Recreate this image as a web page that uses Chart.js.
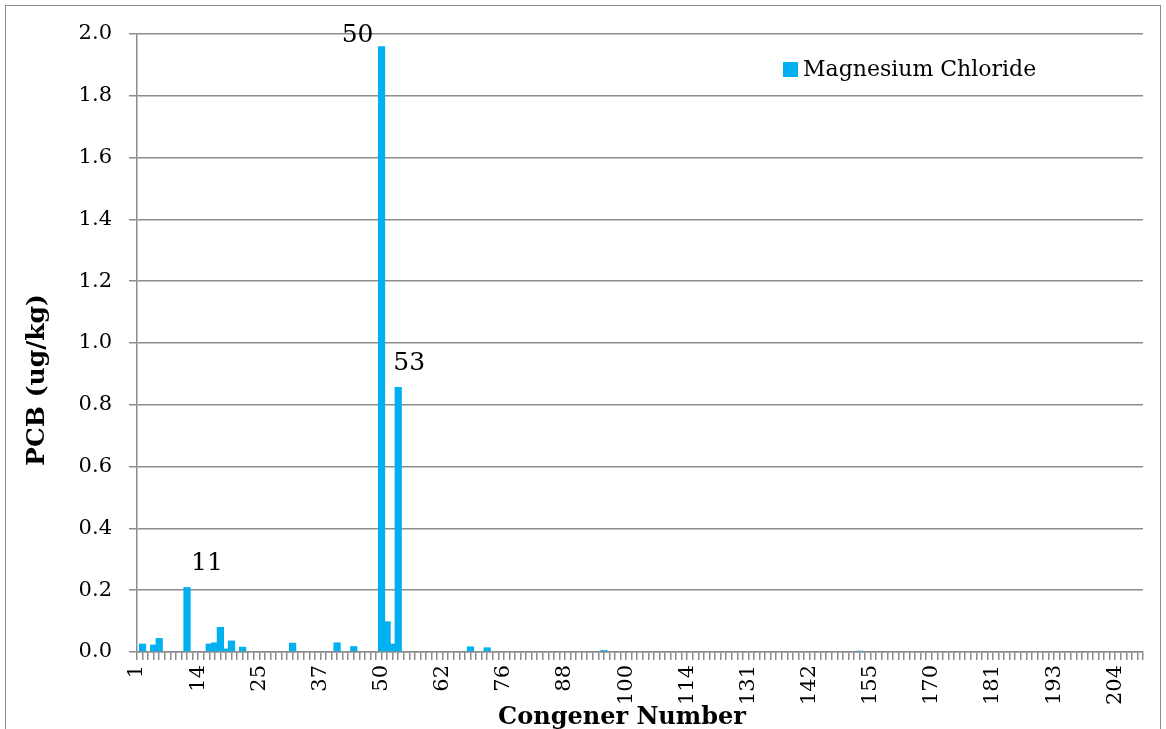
<!DOCTYPE html>
<html>
<head>
<meta charset="utf-8">
<script src="https://cdn.jsdelivr.net/npm/chart.js@4.4.1/dist/chart.umd.min.js"></script>
<style>
html, body { margin: 0; padding: 0; background: #fff; overflow: hidden; }
#frame { position: absolute; left: 5px; top: 5px; width: 1154px; height: 740px; border: 1px solid #8c8c8c; border-bottom: none; }
#chart { position: absolute; left: 0; top: 0; }
</style>
</head>
<body>
<div id="frame"></div>
<canvas id="chart" width="1166" height="729"></canvas>
<script>
// congener categories (co-eluting ones share a slot)
const congeners = [
    '1', '2', '3', '4/10', '5', '6', '7', '8', '9', '11', '12/13',
    '14', '15', '16', '17', '18', '19', '20', '21', '22', '23', '24',
    '25', '26/29', '27', '28', '30', '31', '32', '33', '34', '35', '36',
    '37', '38', '39', '40/41', '42', '43', '44/47', '45', '46', '48', '49',
    '50', '51', '52', '53', '54', '55', '56/60', '57', '58', '59', '61',
    '62', '63', '64/68', '66', '67', '65/69', '70', '71/72', '73', '74', '75',
    '76', '77', '78', '79', '80', '81', '82', '83', '84', '85', '86/87',
    '88', '89', '90', '91', '92', '93', '94', '95/98', '96', '97', '99',
    '100', '101', '102', '103', '104', '105', '106', '107/108', '109/110', '111/112', '113',
    '114', '115/116', '117/118', '119', '120/121', '122', '123', '124/125', '126/127', '128/129', '130',
    '131', '132', '133', '134', '135', '136', '137', '138', '139', '140', '141',
    '142', '143', '144', '145', '146', '147/149', '148', '150', '151', '152/153', '154',
    '155', '156/157', '158', '159/160', '161', '162', '163/164', '165', '166', '167/168', '169',
    '170', '171', '172', '173', '174', '175', '176', '177', '178', '179', '180',
    '181', '182', '183', '184', '185/186', '187', '188', '189', '190', '191', '192',
    '193', '194', '195', '196', '197', '198', '199', '200', '201', '202', '203',
    '204', '205', '206', '207', '208', '209'
];

// PCB (ug/kg), one value per congener slot
const magnesiumChloride = [
    0, 0.027, 0, 0.024, 0.045, 0, 0, 0, 0, 0.210, 0,
    0, 0, 0.027, 0.031, 0.081, 0.011, 0.037, 0, 0.017, 0, 0,
    0, 0, 0, 0, 0, 0, 0.030, 0, 0, 0, 0,
    0, 0, 0, 0.031, 0, 0, 0.019, 0, 0, 0, 0,
    1.960, 0.099, 0.027, 0.858, 0, 0, 0, 0, 0, 0, 0,
    0, 0, 0, 0, 0, 0.018, 0, 0, 0.015, 0, 0,
    0, 0, 0, 0, 0, 0, 0, 0, 0, 0, 0,
    0, 0, 0, 0, 0, 0, 0, 0.006, 0, 0, 0,
    0, 0, 0, 0, 0, 0, 0, 0, 0, 0, 0,
    0, 0, 0, 0, 0, 0, 0, 0, 0, 0, 0,
    0, 0.003, 0, 0, 0, 0, 0, 0, 0, 0, 0,
    0, 0, 0, 0, 0, 0, 0, 0, 0, 0.004, 0,
    0, 0.003, 0, 0, 0, 0, 0, 0, 0, 0, 0,
    0, 0, 0, 0, 0, 0, 0, 0, 0, 0, 0,
    0, 0, 0, 0, 0, 0, 0, 0, 0, 0, 0,
    0, 0, 0, 0, 0, 0, 0, 0, 0, 0, 0,
    0, 0, 0, 0, 0, 0
];

const peakLabels = ['11', '50', '53'];
const seriesName = 'Magnesium Chloride';
const xTitle = 'Congener Number';
const yTitle = 'PCB (ug/kg)';
const labelEvery = 11;

const barColor = '#00b0f0';
const gridColor = '#8c8c8c';
const serif = "'DejaVu Serif', 'Liberation Serif', serif";

// where each peak label sits relative to the top of its bar
const peakOffsets = {
    '11': { dx: 20, dy: -24 },
    '50': { dx: -24, dy: -11 },
    '53': { dx: 11, dy: -23 }
};

const peakLabelPlugin = {
    id: 'peakLabels',
    afterDatasetsDraw(chart) {
        const ctx = chart.ctx;
        const meta = chart.getDatasetMeta(0);
        ctx.save();
        ctx.font = '25px ' + serif;
        ctx.fillStyle = '#000';
        ctx.textAlign = 'center';
        ctx.textBaseline = 'middle';
        peakLabels.forEach(name => {
            const bar = meta.data[congeners.indexOf(name)];
            const off = peakOffsets[name];
            ctx.fillText(name, bar.x + off.dx, bar.y + off.dy);
        });
        ctx.restore();
    }
};

// axis titles sit off-centre in the original, so they are placed by hand
const titlesPlugin = {
    id: 'axisTitles',
    afterDraw(chart) {
        const ctx = chart.ctx;
        const area = chart.chartArea;
        ctx.save();
        ctx.fillStyle = '#000';
        ctx.textAlign = 'center';
        ctx.textBaseline = 'middle';
        ctx.font = 'bold 24px ' + serif;
        ctx.fillText(xTitle, area.left + 485, area.bottom + 66);
        ctx.translate(37, area.top + 346);
        ctx.rotate(-Math.PI / 2);
        ctx.font = 'bold 25px ' + serif;
        ctx.fillText(yTitle, 0, 0);
        ctx.restore();
    }
};

const legendPlugin = {
    id: 'cornerLegend',
    afterDraw(chart) {
        const ctx = chart.ctx;
        const area = chart.chartArea;
        const x = area.right - 360;
        const y = area.top + 35;
        ctx.save();
        ctx.fillStyle = barColor;
        ctx.fillRect(x, y - 7, 15, 15);
        ctx.font = '22px ' + serif;
        ctx.fillStyle = '#000';
        ctx.textBaseline = 'middle';
        ctx.fillText(seriesName, x + 20, y + 1);
        ctx.restore();
    }
};

new Chart(document.getElementById('chart').getContext('2d'), {
    type: 'bar',
    data: {
        labels: congeners,
        datasets: [{
            label: seriesName,
            data: magnesiumChloride,
            backgroundColor: barColor,
            borderWidth: 0,
            categoryPercentage: 1,
            barPercentage: 1.3
        }]
    },
    options: {
        responsive: false,
        animation: false,
        devicePixelRatio: 1,
        layout: { padding: { left: 0, top: 34, right: 23, bottom: 0 } },
        plugins: {
            legend: { display: false },
            tooltip: { enabled: false }
        },
        scales: {
            x: {
                offset: false,
                grid: {
                    offset: false,
                    drawOnChartArea: false,
                    drawTicks: true,
                    tickLength: 8,
                    color: gridColor,
                    lineWidth: 1.5
                },
                border: { display: true, color: gridColor, width: 1.5 },
                ticks: {
                    autoSkip: false,
                    minRotation: 90,
                    maxRotation: 90,
                    padding: 5,
                    color: '#000',
                    font: { family: serif, size: 21 },
                    callback: (v, i) => (i % labelEvery === 0 ? congeners[i] : '')
                },
                afterFit: s => {
                    s.height = 77;
                    s.paddingLeft = 0;
                    s.paddingRight = 0;
                }
            },
            y: {
                min: 0,
                max: 2,
                ticks: {
                    stepSize: 0.2,
                    padding: 17,
                    color: '#000',
                    font: { family: serif, size: 21 },
                    callback: v => v.toFixed(1)
                },
                grid: {
                    color: gridColor,
                    lineWidth: 1.5,
                    drawTicks: true,
                    tickLength: 8
                },
                border: { display: true, color: gridColor, width: 1.5 },
                afterFit: s => { s.width = 137; }
            }
        }
    },
    plugins: [peakLabelPlugin, titlesPlugin, legendPlugin]
});
</script>
</body>
</html>
